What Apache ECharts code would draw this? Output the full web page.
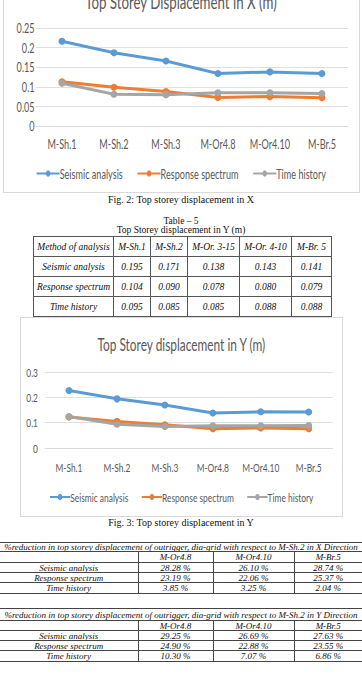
<!DOCTYPE html>
<html>
<head>
<meta charset="utf-8">
<script src="https://cdn.jsdelivr.net/npm/echarts@6/dist/echarts.min.js"></script>
<style>
  html, body { margin: 0; padding: 0; background: #fff; }
  body { width: 362px; height: 678px; position: relative; overflow: hidden; font-family: "Liberation Serif", "Times New Roman", serif; color: #111; }
  .abs { position: absolute; }
  .caja { border: 1px solid #d9d9d9; box-sizing: border-box; }
  .cap { position: absolute; left: 0; width: 362px; text-align: center; font-size: 10px; line-height: 10px; white-space: nowrap; }
  .estrecho { position: absolute; left: 0; top: 0; transform: scaleX(0.7); transform-origin: 0 0; }
  table { border-collapse: collapse; table-layout: fixed; font-style: italic; }
  td { padding: 0; text-align: center; white-space: nowrap; overflow: hidden; }
  .t5 td { border: 1px solid #555; font-size: 9.5px; height: 19px; }
  .tr td { border-top: 1px solid #444; border-bottom: 1px solid #444; font-size: 9px; line-height: 8px; }
  .tr td + td { border-left: 1px solid #444; }
  .tr td.titulo { border-left: none; }
</style>
</head>
<body>
<div class="abs caja" style="left:3px; top:-5px; width:357px; height:198px;"></div>
<div class="abs" style="left:0; top:-20px; width:362px; height:215px;">
  <div id="graficoX" class="estrecho" style="width:517.14px; height:215px;"></div>
</div>

<div class="cap" style="top:195px;">Fig. 2: Top storey displacement in X</div>
<div class="cap" style="top:216px; font-size:9.5px;">Table – 5</div>
<div class="cap" style="top:225px; font-size:9.5px;">Top Storey displacement in Y (m)</div>
<table id="tabla5" class="abs t5" style="left:33px; top:236px; width:298px;"></table>

<div class="abs caja" style="left:20px; top:317px; width:323px; height:200px;"></div>
<div class="abs" style="left:20px; top:317px; width:323px; height:200px;">
  <div id="graficoY" class="estrecho" style="width:461.43px; height:200px;"></div>
</div>
<div class="cap" style="top:518px;">Fig. 3: Top storey displacement in Y</div>

<table id="tablaRedX" class="abs tr" style="left:0; top:542px; width:362px;"></table>
<table id="tablaRedY" class="abs tr" style="left:0; top:608px; width:362px;"></table>

<script>
// datos de los graficos
const categorias = ['M-Sh.1', 'M-Sh.2', 'M-Sh.3', 'M-Or4.8', 'M-Or4.10', 'M-Br.5']
const nombresSeries = ['Seismic analysis', 'Response spectrum', 'Time history']
const colores = ['#5b9bd5', '#ed7d31', '#a5a5a5']

const sismicoX = [0.216, 0.187, 0.166, 0.134, 0.138, 0.134]
const espectroX = [0.113, 0.099, 0.088, 0.073, 0.075, 0.072]
const historiaX = [0.109, 0.081, 0.080, 0.085, 0.085, 0.083]

const sismicoY = [0.227, 0.194, 0.170, 0.138, 0.143, 0.142]
const espectroY = [0.122, 0.105, 0.092, 0.076, 0.079, 0.076]
const historiaY = [0.124, 0.094, 0.085, 0.088, 0.088, 0.089]

// tabla 5
const cabeceraTabla5 = ['Method of analysis', 'M-Sh.1', 'M-Sh.2', 'M-Or. 3-15', 'M-Or. 4-10', 'M-Br. 5']
const metodos = ['Seismic analysis', 'Response spectrum', 'Time history']
const tabla5Sismico = ['0.195', '0.171', '0.138', '0.143', '0.141']
const tabla5Espectro = ['0.104', '0.090', '0.078', '0.080', '0.079']
const tabla5Historia = ['0.095', '0.085', '0.085', '0.088', '0.088']

// tablas de reduccion
const tituloRedX = '%reduction in top storey displacement of outrigger, dia-grid with respect to M-Sh.2 in X Direction'
const tituloRedY = '%reduction in top storey displacement of outrigger, dia-grid with respect to M-Sh.2 in Y Direction'
const cabeceraRed = ['', 'M-Or4.8', 'M-Or4.10', 'M-Br.5']
const redXSismico = ['28.28 %', '26.10 %', '28.74 %']
const redXEspectro = ['23.19 %', '22.06 %', '25.37 %']
const redXHistoria = ['3.85 %', '3.25 %', '2.04 %']
const redYSismico = ['29.25 %', '26.69 %', '27.63 %']
const redYEspectro = ['24.90 %', '22.88 %', '23.55 %']
const redYHistoria = ['10.30 %', '7.07 %', '6.86 %']

// el grafico se dibuja ancho y se comprime con scaleX(0.7), como en la figura original
const fuente = 'Lato, "Open Sans", sans-serif'
const gris = '#595959'

const crearOpciones = (cfg, datos) => ({
  animation: false,
  title: {
    text: cfg.titulo,
    left: 'center',
    top: cfg.tituloTop,
    textStyle: { fontFamily: fuente, fontSize: cfg.tituloSize, fontWeight: 'normal', color: gris }
  },
  legend: {
    data: nombresSeries,
    top: cfg.leyendaTop,
    left: 'center',
    itemWidth: cfg.anchoIcono,
    itemHeight: 8,
    itemGap: cfg.separacion,
    textStyle: { fontFamily: fuente, fontSize: cfg.letra, color: gris, padding: [0, 0, 0, -5] }
  },
  grid: { left: cfg.left, right: cfg.right, top: cfg.top, bottom: cfg.bottom },
  xAxis: {
    type: 'category',
    data: categorias,
    axisLine: { lineStyle: { color: '#d9d9d9' } },
    axisTick: { show: false },
    axisLabel: { fontFamily: fuente, fontSize: cfg.letra, color: gris, margin: cfg.margenX, interval: 0 }
  },
  yAxis: {
    type: 'value',
    min: 0,
    max: cfg.max,
    interval: cfg.intervalo,
    axisLabel: { fontFamily: fuente, fontSize: cfg.letra, color: gris, margin: cfg.margenY },
    splitLine: { lineStyle: { color: '#d9d9d9' } }
  },
  series: datos.map((d, i) => ({
    name: nombresSeries[i],
    type: 'line',
    data: d,
    symbol: 'circle',
    symbolSize: [10, 7],
    lineStyle: { width: 3, color: colores[i] },
    itemStyle: { color: colores[i] }
  }))
})

const graficoX = echarts.init(document.getElementById('graficoX'), null, { renderer: 'svg' })
graficoX.setOption(crearOpciones({
  titulo: 'Top Storey Displacement in X (m)', tituloTop: 7, tituloSize: 19, letra: 13,
  anchoIcono: 33, separacion: 20,
  leyendaTop: 182, left: 51.4, right: 20, top: 48, bottom: 69, max: 0.25, intervalo: 0.05,
  margenX: 11, margenY: 2
}, [sismicoX, espectroX, historiaX]))

const graficoY = echarts.init(document.getElementById('graficoY'), null, { renderer: 'svg' })
graficoY.setOption(crearOpciones({
  titulo: 'Top Storey displacement in Y (m)', tituloTop: 14, tituloSize: 17, letra: 12,
  anchoIcono: 29, separacion: 18,
  leyendaTop: 169, left: 35.7, right: 14.3, top: 55, bottom: 69, max: 0.3, intervalo: 0.1,
  margenX: 13, margenY: 10
}, [sismicoY, espectroY, historiaY]))

// construir tablas
const fila = (celdas) => '<tr>' + celdas.map(c => `<td>${c}</td>`).join('') + '</tr>'

const anchos5 = [80, 37, 37, 52, 52, 40]
document.getElementById('tabla5').innerHTML =
  '<colgroup>' + anchos5.map(w => `<col style="width:${w}px">`).join('') + '</colgroup>' +
  fila(cabeceraTabla5) +
  fila([metodos[0], ...tabla5Sismico]) +
  fila([metodos[1], ...tabla5Espectro]) +
  fila([metodos[2], ...tabla5Historia])

const construirReduccion = (id, titulo, filas, alturas) => {
  const anchos = [138, 75, 81, 68]
  let html = '<colgroup>' + anchos.map(w => `<col style="width:${w}px">`).join('') + '</colgroup>'
  html += `<tr style="height:${alturas[0]}px"><td class="titulo" colspan="4">${titulo}</td></tr>`
  html += `<tr style="height:${alturas[1]}px">` + cabeceraRed.map(c => `<td>${c}</td>`).join('') + '</tr>'
  filas.forEach((f, i) => {
    html += `<tr style="height:${alturas[i + 2]}px">` + [metodos[i], ...f].map(c => `<td>${c}</td>`).join('') + '</tr>'
  })
  document.getElementById(id).innerHTML = html
}

construirReduccion('tablaRedX', tituloRedX, [redXSismico, redXEspectro, redXHistoria], [9, 11, 10, 10, 11])
construirReduccion('tablaRedY', tituloRedY, [redYSismico, redYEspectro, redYHistoria], [12, 10, 10, 10, 11])
</script>
</body>
</html>
